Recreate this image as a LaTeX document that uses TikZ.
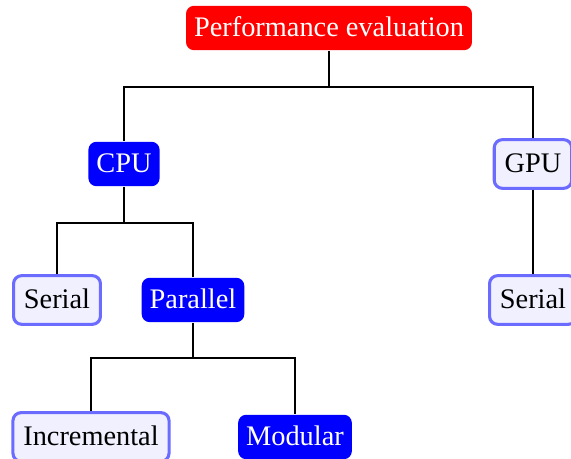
\documentclass[tikz,border=0pt]{standalone}
\usepackage{fontspec}
\setmainfont{Liberation Serif}
\begin{document}
\begin{tikzpicture}[x=0.4234pt,y=-0.4234pt,
  box/.style={rounded corners=3.4pt,inner xsep=3.4pt,inner ysep=3.4pt,text height=9.8pt,text depth=2.2pt,font=\fontsize{12}{14}\selectfont},
  redbox/.style={box,fill=red,text=white},
  bluebox/.style={box,fill=blue,text=white},
  lightbox/.style={box,fill=blue!6,draw=blue!58,line width=1.3pt,inner xsep=4.4pt,inner ysep=4.3pt},
  conn/.style={draw=black,line width=0.8pt}]
\useasboundingbox (0,0) rectangle (571,459);
\node[redbox] (pe) at (329,28) {Performance evaluation};
\node[bluebox] (cpu) at (124,164) {CPU};
\node[lightbox] (gpu) at (533,164) {GPU};
\node[lightbox] (ser1) at (57,300) {Serial};
\node[bluebox] (par) at (193,300) {Parallel};
\node[lightbox] (ser2) at (533,300) {Serial};
\node[lightbox] (inc) at (91,437) {Incremental};
\node[bluebox] (mod) at (295,437) {Modular};
\coordinate (f1) at (329,87);
\coordinate (f2) at (124,223);
\coordinate (f3) at (193,358);
\draw[conn] (pe.south) -- (f1);
\draw[conn] (f1) -| (cpu.north);
\draw[conn] (f1) -| (gpu.north);
\draw[conn] (cpu.south) -- (f2);
\draw[conn] (f2) -| (ser1.north);
\draw[conn] (f2) -| (par.north);
\draw[conn] (gpu.south) -- (ser2.north);
\draw[conn] (par.south) -- (f3);
\draw[conn] (f3) -| (inc.north);
\draw[conn] (f3) -| (mod.north);
\end{tikzpicture}
\end{document}
